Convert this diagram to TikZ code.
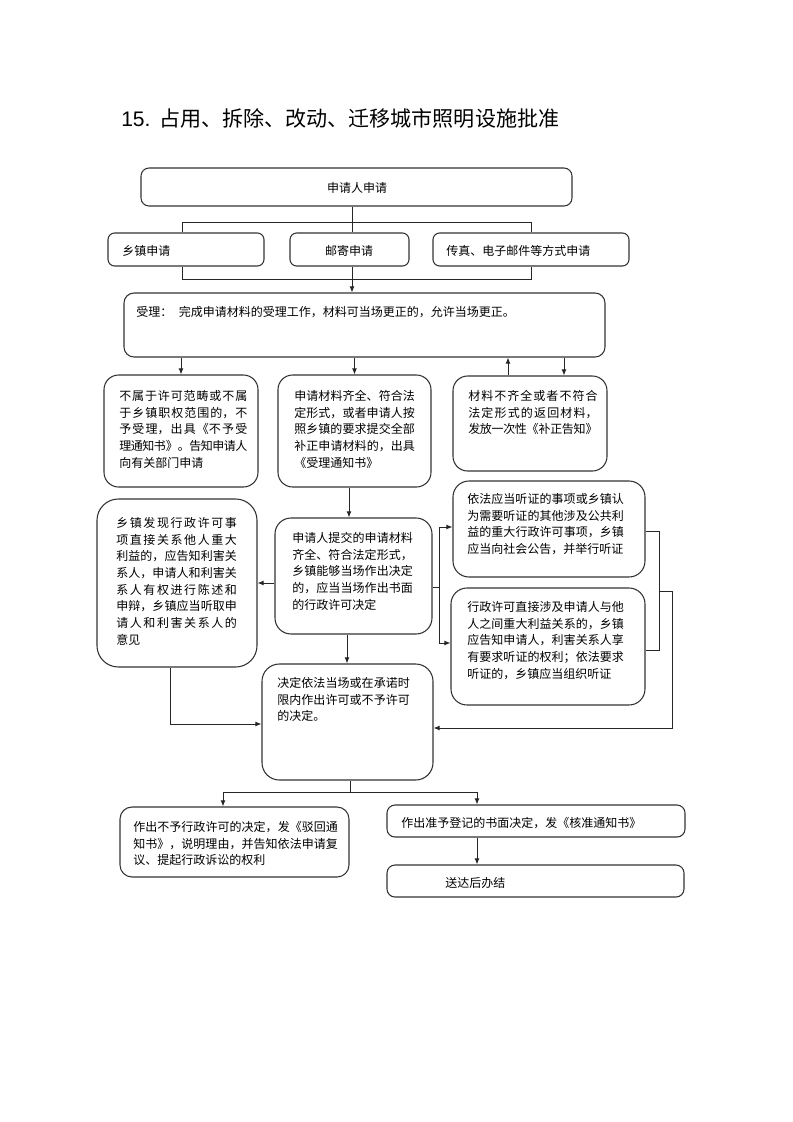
\documentclass[tikz,border=0pt]{standalone}
\usepackage{fontspec}
\usetikzlibrary{arrows.meta,calc}
\newfontfamily\cjk{Noto Sans CJK SC}
\newfontfamily\latf{Liberation Sans}
\XeTeXlinebreaklocale "zh"
\XeTeXlinebreakskip=0pt plus 3pt minus 0.6pt
\newcommand{\mybox}[6]{\node[box, rounded corners=#6, minimum width={(#4-#2)*0.75pt}, minimum height={(#5-#3)*0.75pt}] (#1) at ({(#2+#4)/2},{(#3+#5)/2}) {};}
\begin{document}
\begin{tikzpicture}[x=0.75pt,y=-0.75pt,
  ln/.style={draw=black!85, line width=0.65pt},
  arr/.style={ln, -{Latex[length=4.5pt,width=3.6pt]}},
  box/.style={draw=black!80, line width=0.8pt, inner sep=0pt},
  txt/.style={font=\cjk\fontsize{9pt}{12.5pt}\selectfont, inner sep=0pt},
  para/.style={txt, align=justify, text width=#1, anchor=north west},
]
\fill[white] (0,0) rectangle (793,1122);
\useasboundingbox (0,0) rectangle (793,1122);

% title
\node[anchor=west, inner sep=0pt, font=\fontsize{15.8pt}{18pt}\selectfont] (title) at (121,118)
  {{\latf 15.} {\cjk 占用、拆除、改动、迁移城市照明设施批准}};

% boxes
\mybox{b1}{141}{168}{572}{206}{6pt}
\mybox{b2a}{108}{233}{264}{266}{5pt}
\mybox{b2b}{290}{233}{409}{266}{5pt}
\mybox{b2c}{433}{233}{629}{266}{5pt}
\mybox{b3}{124}{293}{605}{357}{7.5pt}
\mybox{b4a}{104}{375}{258}{487}{11pt}
\mybox{b4b}{278}{375}{431}{487}{11pt}
\mybox{b4c}{453}{376}{607}{471}{11pt}
\mybox{b5a}{97}{499}{257}{667}{16pt}
\mybox{b5b}{275}{518}{432}{634}{12pt}
\mybox{b5c}{453}{481}{645}{577}{12pt}
\mybox{b5d}{451}{588}{645}{705}{12pt}
\mybox{b6}{262}{664}{433}{780}{13pt}
\mybox{b7a}{120}{807}{349}{877}{9pt}
\mybox{b7b}{387}{805}{685}{837}{6pt}
\mybox{b8}{387}{865}{684}{897}{6pt}

% texts
\node[txt] (t1) at (357,188) {申请人申请};
\node[txt, anchor=west] (t2a) at (122,251) {乡镇申请};
\node[txt] (t2b) at (349,251) {邮寄申请};
\node[txt, anchor=west] (t2c) at (446,251) {传真、电子邮件等方式申请};
\node[txt, anchor=west] (t3) at (136,312) {受理：\hspace{5pt}完成申请材料的受理工作，材料可当场更正的，允许当场更正。};
\node[para=96pt] (t4a) at (119,390) {不属于许可范畴或不属\linebreak 于乡镇职权范围的，不\linebreak 予受理，出具《不予受\linebreak 理通知书》。告知申请人\linebreak 向有关部门申请};
\node[para=90.5pt] (t4b) at (294,390) {申请材料齐全、符合法\linebreak 定形式，或者申请人按\linebreak 照乡镇的要求提交全部\linebreak 补正申请材料的，出具\linebreak 《受理通知书》};
\node[para=97pt] (t4c) at (468,390) {材料不齐全或者不符合\linebreak 法定形式的返回材料，\linebreak 发放一次性《补正告知》};
\node[para=90.5pt] (t5a) at (116,517) {乡镇发现行政许可事\linebreak 项直接关系他人重大\linebreak 利益的，应告知利害关\linebreak 系人，申请人和利害关\linebreak 系人有权进行陈述和\linebreak 申辩，乡镇应当听取申\linebreak 请人和利害关系人的\linebreak 意见};
\node[para=90.5pt] (t5b) at (292,532) {申请人提交的申请材料\linebreak 齐全、符合法定形式，\linebreak 乡镇能够当场作出决定\linebreak 的，应当当场作出书面\linebreak 的行政许可决定};
\node[para=117.5pt] (t5c) at (467,493) {依法应当听证的事项或乡镇认\linebreak 为需要听证的其他涉及公共利\linebreak 益的重大行政许可事项，乡镇\linebreak 应当向社会公告，并举行听证};
\node[para=117.5pt] (t5d) at (467,601) {行政许可直接涉及申请人与他\linebreak 人之间重大利益关系的，乡镇\linebreak 应告知申请人，利害关系人享\linebreak 有要求听证的权利；依法要求\linebreak 听证的，乡镇应当组织听证};
\node[para=99.5pt] (t6) at (277,677) {决定依法当场或在承诺时\linebreak 限内作出许可或不予许可\linebreak 的决定。};
\node[para=153.5pt] (t7a) at (133,821) {作出不予行政许可的决定，发《驳回通\linebreak 知书》，说明理由，并告知依法申请复\linebreak 议、提起行政诉讼的权利};
\node[txt, anchor=west] (t7b) at (401,823) {作出准予登记的书面决定，发《核准通知书》};
\node[txt, anchor=west] (t8) at (445,883) {送达后办结};

% connectors
\coordinate (j1) at (352,222); \coordinate (jl) at (182,222); \coordinate (jr) at (531,222);
\coordinate (k1) at (352,279); \coordinate (kl) at (182,279); \coordinate (kr) at (531,279);
\draw[ln] (b1.south -| j1) -- (b2b.north -| j1);
\draw[ln] (b2a.north -| jl) -- (jl) -- (jr) -- (b2c.north -| jr);
\draw[ln] (b2a.south -| kl) -- (kl) -- (kr) -- (b2c.south -| kr);
\draw[arr] (b2b.south -| k1) -- (b3.north -| k1);

\draw[arr] (b3.south -| b4a.north) -- (b4a.north);
\draw[arr] (b3.south -| b4b.north) -- (b4b.north);
\coordinate (u1) at (508,0); \coordinate (u2) at (564,0);
\draw[arr] (b4c.north -| u1) -- (b3.south -| u1);
\draw[arr] (b3.south -| u2) -- (b4c.north -| u2);

\coordinate (v1) at (349,0); \coordinate (v2) at (347,0);
\draw[arr] (b4b.south -| v1) -- (b5b.north -| v1);
\draw[arr] (b5b.west |- b5a.east) -- (b5a.east);
\draw[arr] (b5b.south -| v2) -- (b6.north -| v2);

\coordinate (f0) at (439,587); \coordinate (f1) at (439,527); \coordinate (f2) at (439,643);
\draw[ln] (b5b.east |- f0) -- (f0);
\draw[arr] (f0) |- (b5c.west |- f1);
\draw[arr] (f0) |- (b5d.west |- f2);

\coordinate (g1) at (659,531); \coordinate (g2) at (659,650); \coordinate (g0) at (659,591);
\coordinate (g3) at (672,591); \coordinate (g4) at (672,728);
\draw[ln] (b5c.east |- g1) -- (g1) -- (g2) -- (b5d.east |- g2);
\draw[arr] (g0) -- (g3) -- (g4) -- (b6.east |- g4);

\coordinate (h1) at (170,724);
\draw[arr] (b5a.south -| h1) -- (h1) -- (b6.west |- h1);

\coordinate (m0) at (350,792); \coordinate (ml) at (223,792); \coordinate (mr) at (477,792);
\draw[ln] (b6.south -| m0) -- (m0);
\draw[arr] (m0) -- (ml) -- (b7a.north -| ml);
\draw[arr] (m0) -- (mr) -- (b7b.north -| mr);
\draw[arr] (b7b.south -| mr) -- (b8.north -| mr);
\end{tikzpicture}
\end{document}
